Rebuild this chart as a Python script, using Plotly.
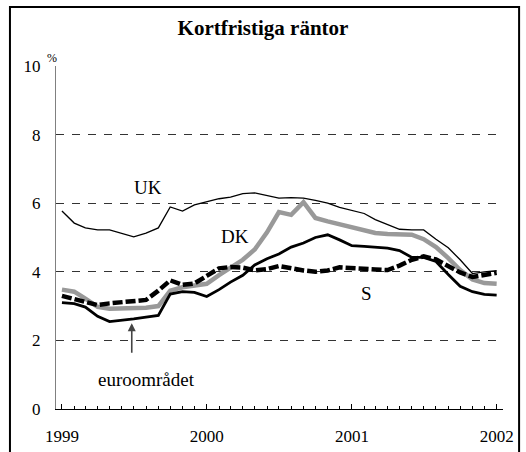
import pandas as pd
import plotly.graph_objects as go

# monthly observations, Jan 1999 .. Jan 2002
months = pd.date_range("1999-01-01", "2002-01-01", freq="MS")

uk = [5.77, 5.42, 5.28, 5.22, 5.22, 5.12, 5.02, 5.13, 5.28, 5.89, 5.77, 5.95,
      6.03, 6.13, 6.18, 6.28, 6.30, 6.22, 6.15, 6.16, 6.15, 6.08, 6.00, 5.88,
      5.78, 5.70, 5.52, 5.38, 5.24, 5.22, 5.22, 4.95, 4.70, 4.35, 3.95, 4.00,
      4.03]
dk = [3.48, 3.42, 3.22, 2.98, 2.92, 2.93, 2.94, 2.95, 3.00, 3.45, 3.55, 3.60,
      3.65, 3.90, 4.10, 4.35, 4.65, 5.15, 5.74, 5.66, 6.03, 5.57, 5.47, 5.38,
      5.30, 5.22, 5.13, 5.10, 5.10, 5.08, 4.95, 4.72, 4.40, 4.05, 3.78, 3.67,
      3.65]
euro = [3.10, 3.07, 2.97, 2.70, 2.55, 2.58, 2.63, 2.68, 2.73, 3.35, 3.42, 3.40,
        3.28, 3.48, 3.70, 3.90, 4.20, 4.38, 4.52, 4.72, 4.84, 5.00, 5.08, 4.93,
        4.76, 4.74, 4.72, 4.69, 4.62, 4.42, 4.42, 4.30, 3.92, 3.58, 3.42, 3.34,
        3.32]
se = [3.30, 3.20, 3.10, 3.03, 3.08, 3.12, 3.16, 3.18, 3.45, 3.75, 3.62, 3.66,
      3.88, 4.10, 4.14, 4.12, 4.04, 4.08, 4.17, 4.10, 4.04, 4.00, 4.04, 4.13,
      4.12, 4.10, 4.07, 4.05, 4.18, 4.35, 4.45, 4.36, 4.15, 3.98, 3.85, 3.90,
      3.97]

serif = "Liberation Serif"

fig = go.Figure()
fig.add_trace(go.Scatter(x=months, y=dk, mode="lines", line=dict(color="#999999", width=4.5)))
fig.add_trace(go.Scatter(x=months, y=uk, mode="lines", line=dict(color="black", width=1.3)))
fig.add_trace(go.Scatter(x=months, y=euro, mode="lines", line=dict(color="black", width=2.8)))
fig.add_trace(go.Scatter(x=months, y=se, mode="lines",
                         line=dict(color="black", width=4.5, dash="10px,3px")))

labels = [("UK", "1999-08-05", 6.47), ("DK", "2000-03-12", 5.04),
          ("S", "2001-02-07", 3.38), ("euroområdet", "1999-08-03", 0.85)]
for text, x, y in labels:
    fig.add_annotation(x=x, y=y, text=text, showarrow=False,
                       font=dict(family=serif, size=19, color="black"))

# arrow pointing at the euro line
fig.add_annotation(x="1999-06-26", y=2.5, text="", showarrow=True, ax=0, ay=31,
                   arrowhead=2, arrowsize=1, arrowwidth=1.6, arrowcolor="#444444")

fig.add_annotation(x=-0.01, y=1.05, xref="paper", yref="paper", text="%", showarrow=False,
                   xanchor="center", font=dict(family=serif, size=12, color="black"))

# outer frame
fig.add_shape(type="rect", xref="paper", yref="paper", x0=-0.103, x1=1.036, y0=-0.14, y1=1.172,
              line=dict(color="black", width=2))

fig.update_layout(
    width=526, height=452,
    margin=dict(l=56, r=23, t=66, b=43),
    paper_bgcolor="white", plot_bgcolor="white",
    showlegend=False,
    title=dict(text="<b>Kortfristiga räntor</b>", x=0.5, xanchor="center", y=0.938, yanchor="middle",
               font=dict(family=serif, size=21, color="black")),
    font=dict(family=serif, size=17, color="black"),
)
fig.update_xaxes(
    type="date", range=["1998-12-17", "2002-01-17"], automargin=False,
    showgrid=False, zeroline=False,
    showline=True, linecolor="black", linewidth=1,
    tickformat="%Y", dtick="M12", tick0="1999-01-01",
    ticks="inside", ticklen=5, tickcolor="black",
    minor=dict(dtick="M1", ticks="inside", ticklen=3, tickcolor="black", showgrid=False),
    ticklabelstandoff=12,
    tickfont=dict(family=serif, size=17),
)
fig.update_yaxes(
    range=[0, 10], dtick=2, zeroline=False, automargin=False,
    showgrid=True, gridcolor="#333333", gridwidth=1, griddash="8px,8px",
    showline=True, linecolor="#808080", linewidth=1,
    ticks="outside", ticklen=11, tickcolor="rgba(0,0,0,0)",
    tickfont=dict(family=serif, size=17),
)

page_fix = (
    "document.body.style.margin='0px';"
    "document.body.style.overflow='hidden';"
    "document.documentElement.style.overflow='hidden';"
)
fig.write_html("out.html", config={"displayModeBar": False}, post_script=page_fix)
